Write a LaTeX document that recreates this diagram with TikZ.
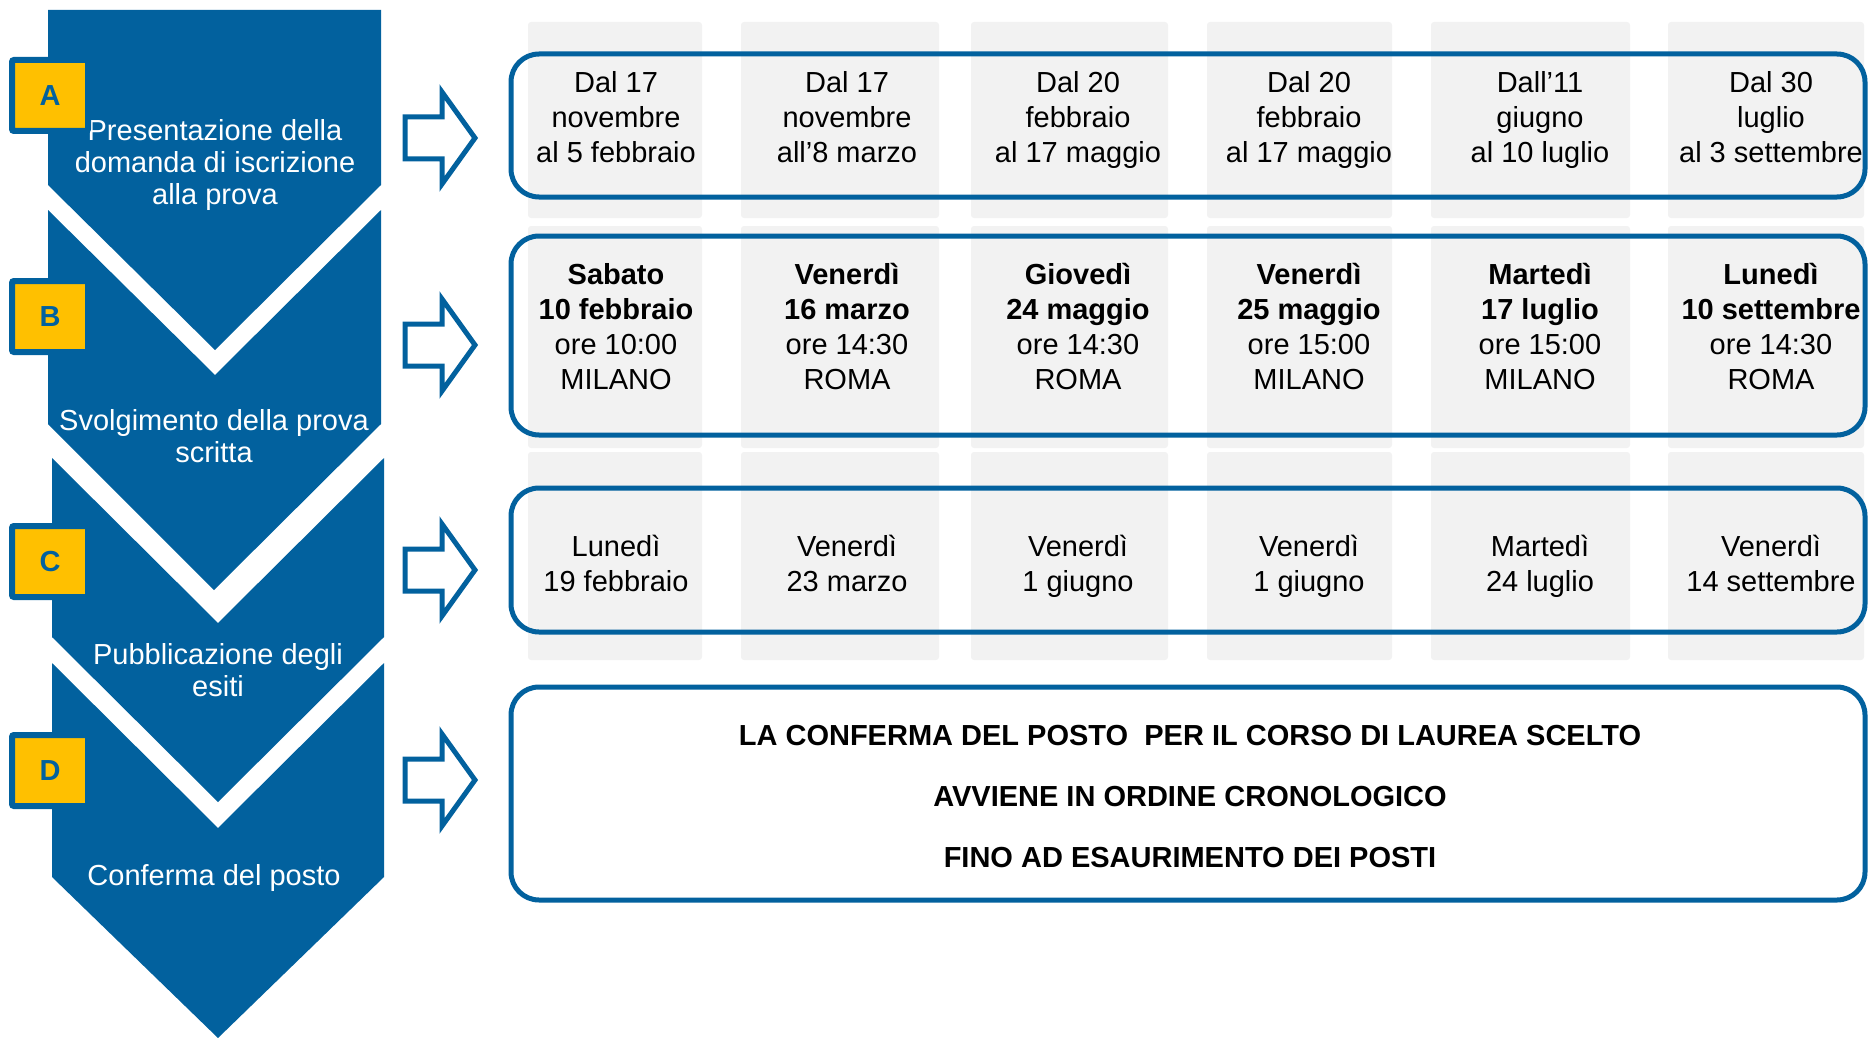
\documentclass[tikz,border=0pt]{standalone}
\usepackage{fontspec}
\setmainfont{Liberation Sans}
\definecolor{chevblue}{RGB}{2,97,158}
\definecolor{tagyellow}{RGB}{255,192,0}
\definecolor{cellgrey}{RGB}{242,242,242}

\begin{document}
\begin{tikzpicture}
  [x=0.5pt,y=-0.5pt,
   chev/.style={fill=chevblue},
   chevtext/.style={text=white,align=center,inner sep=0pt,
     font=\fontsize{14.5}{16}\selectfont,
     execute at begin node=\strut,execute at end node=\strut},
   tag/.style={draw=chevblue,fill=tagyellow,line width=3pt,inner sep=0pt,
     minimum width=38pt,minimum height=35.5pt,rounded corners=1pt,
     text=chevblue,font=\fontsize{14.5}{16}\selectfont\bfseries},
   cell/.style={fill=cellgrey,rounded corners=1.5pt},
   datebox/.style={draw=chevblue,line width=2.5pt,rounded corners=14pt},
   datetext/.style={align=center,inner sep=0pt,
     font=\fontsize{14.5}{17.5}\selectfont,
     execute at begin node=\strut,execute at end node=\strut},
   notetext/.style={align=center,inner sep=0pt,
     font=\fontsize{14.5}{30.5}\selectfont\bfseries,
     execute at begin node=\strut,execute at end node=\strut},
   blockarrow/.style={draw=chevblue,line width=2.5pt,fill=white}]
  \useasboundingbox (0,0) rectangle (1869,1038);

  % chevrons on the left
  \fill[chev] (48,10) -- (381,10) -- (381,185) -- (215,350) -- (48,185) -- cycle;
  \fill[chev] (48,210) -- (215,375) -- (381,210) -- (381,424) -- (214,590) -- (48,424) -- cycle;
  \fill[chev] (52,458) -- (218,623) -- (384,458) -- (384,637) -- (218,802) -- (52,637) -- cycle;
  \fill[chev] (52,663) -- (218,828) -- (384,663) -- (384,877) -- (218,1038) -- (52,877) -- cycle;
  \node[chevtext] (txtA) at (215,167) {Presentazione della\\domanda di iscrizione\\alla prova};
  \node[chevtext] (txtB) at (214,440.5) {Svolgimento della prova\\scritta};
  \node[chevtext] (txtC) at (218,674.5) {Pubblicazione degli\\esiti};
  \node[chevtext] (txtD) at (214,879) {Conferma del posto};
  \foreach \l/\y in {A/95.5,B/316.5,C/561.5,D/770.5}
    \node[tag] (tag\l) at (50,\y) {\l};

  % grey columns
  \foreach \xa/\xb in {528/702,741/939,971/1168,1207/1392,1431/1630,1668/1864}
    \foreach \ya/\yb in {22/218,226/448,452/660}
      \fill[cell] (\xa,\ya) rectangle (\xb,\yb);

  % arrows
  \foreach \y in {138,345,570,780}
    \draw[blockarrow] (405,\y-21) -- (442,\y-21) -- (442,\y-46) -- (475,\y)
      -- (442,\y+46) -- (442,\y+21) -- (405,\y+21) -- cycle;

  % rounded boxes
  \draw[datebox] (511,54) rectangle (1865,197);
  \draw[datebox] (511,236) rectangle (1865,435);
  \draw[datebox] (511,488) rectangle (1865,632);
  \draw[datebox] (511,687) rectangle (1865,900);

  \foreach \t [count=\i] in {{Dal 17\\novembre\\al 5 febbraio},
      {Dal 17\\novembre\\all’8 marzo},{Dal 20\\febbraio\\al 17 maggio},
      {Dal 20\\febbraio\\al 17 maggio},{Dall’11\\giugno\\al 10 luglio},
      {Dal 30\\luglio\\al 3 settembre}}
    \node[datetext] (iscr\i) at ({616+231*(\i-1)},122.5) {\t};
  \foreach \t [count=\i] in {{\textbf{Sabato}\\\textbf{10 febbraio}\\ore 10:00\\MILANO},
      {\textbf{Venerdì}\\\textbf{16 marzo}\\ore 14:30\\ROMA},
      {\textbf{Giovedì}\\\textbf{24 maggio}\\ore 14:30\\ROMA},
      {\textbf{Venerdì}\\\textbf{25 maggio}\\ore 15:00\\MILANO},
      {\textbf{Martedì}\\\textbf{17 luglio}\\ore 15:00\\MILANO},
      {\textbf{Lunedì}\\\textbf{10 settembre}\\ore 14:30\\ROMA}}
    \node[datetext] (prova\i) at ({616+231*(\i-1)},332) {\t};
  \foreach \t [count=\i] in {{Lunedì\\19 febbraio},{Venerdì\\23 marzo},
      {Venerdì\\1 giugno},{Venerdì\\1 giugno},{Martedì\\24 luglio},
      {Venerdì\\14 settembre}}
    \node[datetext] (esito\i) at ({616+231*(\i-1)},569) {\t};

  \node[notetext] (conferma) at (1190,806)
    {LA CONFERMA DEL POSTO\ \ PER IL CORSO DI LAUREA SCELTO\\
     AVVIENE IN ORDINE CRONOLOGICO\\FINO AD ESAURIMENTO DEI POSTI};
\end{tikzpicture}
\end{document}
